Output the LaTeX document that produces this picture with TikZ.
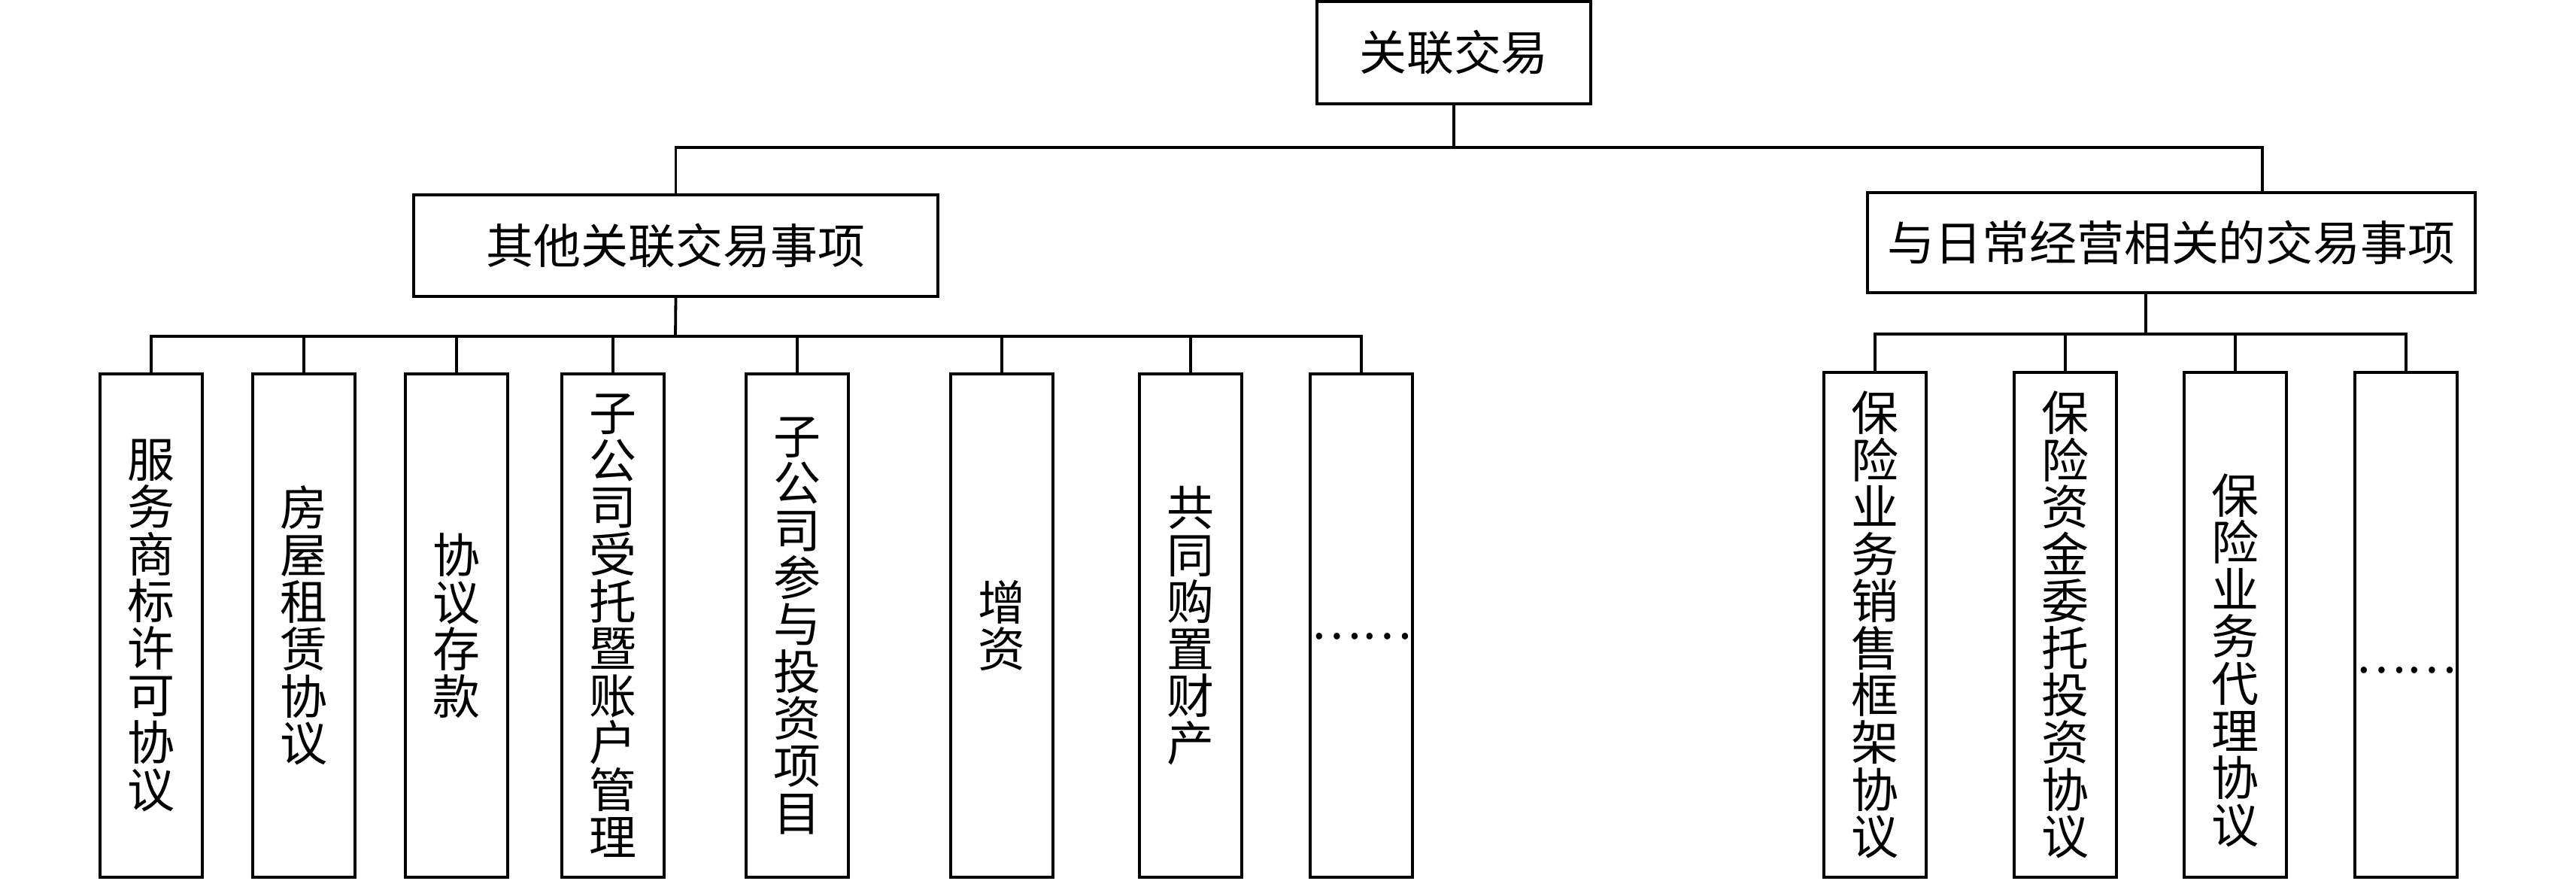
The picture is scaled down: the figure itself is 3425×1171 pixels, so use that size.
\documentclass[tikz,border=0pt]{standalone}
\usepackage{fontspec}
\setmainfont{Noto Sans CJK SC}
\newfontfamily\cjkfont{Noto Sans CJK SC}
\newcommand{\hfnt}{\cjkfont\fontsize{17.9pt}{17.8pt}\selectfont}
\newcommand{\vfnt}{\cjkfont\fontsize{17.9pt}{17.8pt}\selectfont\lineskiplimit=-100pt\lineskip=0pt}
\begin{document}
\begin{tikzpicture}[x=0.01cm,y=-0.01cm,
  wire/.style={line width=0.038cm},
  boxnode/.style={draw, line width=0.04cm, inner sep=0pt, outer sep=0pt, font=\hfnt},
  leafbox/.style={draw, line width=0.04cm, inner sep=0pt, outer sep=0pt, minimum width=1.36cm, minimum height=6.69cm},
  vtxt/.style={inner sep=0pt, align=center, font=\vfnt}]
\useasboundingbox (0,0) rectangle (3425,1171);
\fill[white] (0,0) rectangle (3425,1171);
% top levels
\node[boxnode, minimum width=3.64cm, minimum height=1.36cm] (top) at (1933,70) {关联交易};
\node[boxnode, minimum width=6.97cm, minimum height=1.35cm] (lmid) at (898.5,326.5) {其他关联交易事项};
\node[boxnode, minimum width=8.08cm, minimum height=1.33cm] (rmid) at (2887,322.5) {与日常经营相关的交易事项};
% left leaves
\foreach \n/\x in {l1/201,l2/404,l3/607,l4/815,l5/1060,l6/1332,l7/1583,l8/1810}
  \node[leafbox] (\n) at (\x,831.5) {};
% right leaves
\foreach \n/\x in {r1/2493,r2/2746,r3/2972,r4/3199}
  \node[leafbox, minimum height=6.71cm] (\n) at (\x,830.5) {};
% leaf texts
\node[vtxt] (t1) at (l1.center) {服\\务\\商\\标\\许\\可\\协\\议};
\node[vtxt] (t2) at (l2.center) {房\\屋\\租\\赁\\协\\议};
\node[vtxt] (t3) at (l3.center) {协\\议\\存\\款};
\node[vtxt] (t4) at (l4.center) {子\\公\\司\\受\\托\\暨\\账\\户\\管\\理};
\node[vtxt] (t5) at (l5.center) {子\\公\\司\\参\\与\\投\\资\\项\\目};
\node[vtxt] (t6) at (l6.center) {增\\资};
\node[vtxt] (t7) at (l7.center) {共\\同\\购\\置\\财\\产};
\node[vtxt] (t8) at ([yshift=-0.14cm]l8.center) {……};
\node[vtxt] (u1) at (r1.center) {保\\险\\业\\务\\销\\售\\框\\架\\协\\议};
\node[vtxt] (u2) at (r2.center) {保\\险\\资\\金\\委\\托\\投\\资\\协\\议};
\node[vtxt] (u3) at ([yshift=-0.47cm]r3.center) {保\\险\\业\\务\\代\\理\\协\\议};
\node[vtxt] (u4) at ([yshift=-0.6cm]r4.center) {……};
% connectors, level 1
\coordinate (b1r) at (3008,196);
\draw[wire] (top.south) -- (top.south |- b1r);
\draw[wire] (lmid.north) |- (b1r) -- (b1r |- rmid.north);
% connectors, left group
\coordinate (b2) at (898,447);
\draw[wire] (lmid.south) -- (b2);
\draw[wire] (l1.north) |- (l8.north |- b2) -- (l8.north);
\foreach \n in {l2,l3,l4,l5,l6,l7}
  \draw[wire] (\n.north) -- (\n.north |- b2);
% connectors, right group
\coordinate (b3) at (2853,444);
\draw[wire] (rmid.south -| b3) -- (b3);
\draw[wire] (r1.north) |- (r4.north |- b3) -- (r4.north);
\foreach \n in {r2,r3}
  \draw[wire] (\n.north) -- (\n.north |- b3);
\end{tikzpicture}
\end{document}
